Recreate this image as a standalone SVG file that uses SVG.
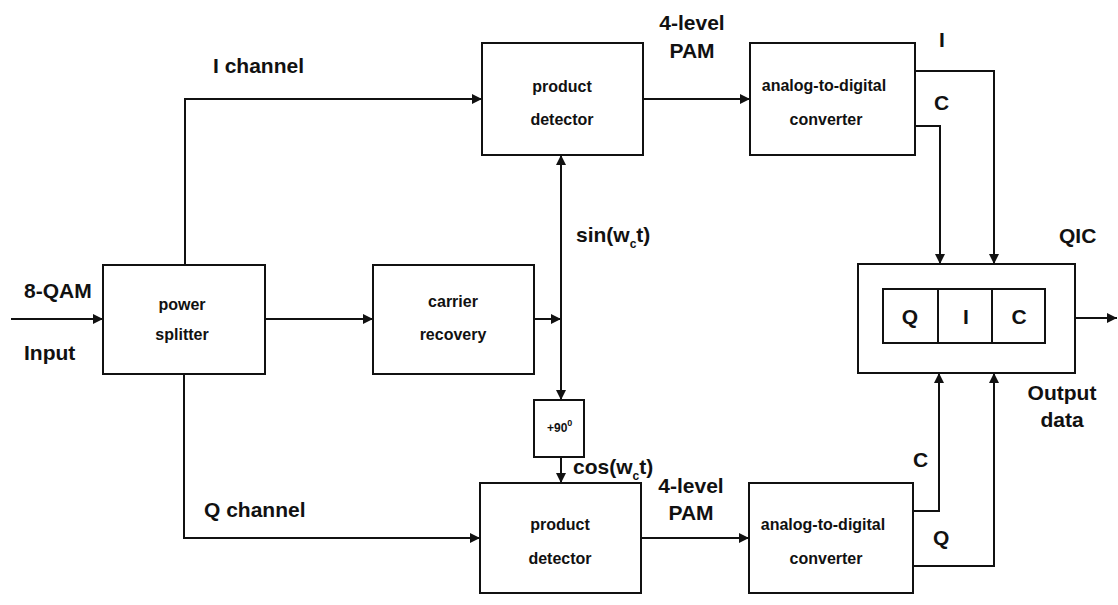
<svg xmlns="http://www.w3.org/2000/svg" width="1118" height="605" viewBox="0 0 1118 605">
<style>
.box{fill:#fff;stroke:#111;stroke-width:2}
.ln{fill:none;stroke:#111;stroke-width:2}
.lbl{font-family:"Liberation Sans",Arial,sans-serif;font-weight:bold;font-size:21px;fill:#111}
.bt{font-family:"Liberation Sans",Arial,sans-serif;font-weight:bold;font-size:16px;fill:#111;text-anchor:middle}
.sub{font-size:12px}
</style>
<defs>
<marker id="ah" viewBox="0 0 10 10" refX="10" refY="5" markerWidth="10" markerHeight="10" markerUnits="userSpaceOnUse" orient="auto">
<path d="M0,0 L10,5 L0,10 Z" fill="#111"/>
</marker>
<marker id="ahs" viewBox="0 0 10 10" refX="10" refY="5" markerWidth="10" markerHeight="10" markerUnits="userSpaceOnUse" orient="auto-start-reverse">
<path d="M0,0 L10,5 L0,10 Z" fill="#111"/>
</marker>
</defs>
<rect width="1118" height="605" fill="#fff"/>

<g id="connectors">
<path class="ln" d="M11,319 H103" marker-end="url(#ah)"/>
<path class="ln" d="M265,319 H373" marker-end="url(#ah)"/>
<path class="ln" d="M534,319 H561" marker-end="url(#ah)"/>
<path class="ln" d="M561,155 V400" marker-start="url(#ahs)" marker-end="url(#ah)"/>
<path class="ln" d="M561,457 V483" marker-end="url(#ah)"/>
<path class="ln" d="M185,265 V99 H482" marker-end="url(#ah)"/>
<path class="ln" d="M184,374 V538 H480" marker-end="url(#ah)"/>
<path class="ln" d="M643,99 H750" marker-end="url(#ah)"/>
<path class="ln" d="M641,538 H749" marker-end="url(#ah)"/>
<path class="ln" d="M915,71 H994 V264" marker-end="url(#ah)"/>
<path class="ln" d="M915,126 H940 V264" marker-end="url(#ah)"/>
<path class="ln" d="M913,511 H939 V373" marker-end="url(#ah)"/>
<path class="ln" d="M913,566 H994 V373" marker-end="url(#ah)"/>
<path class="ln" d="M1075,318 H1117" marker-end="url(#ah)"/>
</g>

<g id="power-splitter">
<rect class="box" x="103" y="265" width="162" height="109"/>
<text class="bt" x="182" y="310">power</text>
<text class="bt" x="182" y="340">splitter</text>
</g>

<g id="carrier-recovery">
<rect class="box" x="373" y="265" width="161" height="109"/>
<text class="bt" x="453" y="307">carrier</text>
<text class="bt" x="453" y="340">recovery</text>
</g>

<g id="product-detector-i">
<rect class="box" x="482" y="43" width="161" height="112"/>
<text class="bt" x="562" y="92">product</text>
<text class="bt" x="562" y="125">detector</text>
</g>

<g id="adc-i">
<rect class="box" x="750" y="43" width="165" height="112"/>
<text class="bt" x="824" y="91">analog-to-digital</text>
<text class="bt" x="826" y="125">converter</text>
</g>

<g id="phase-shift">
<rect class="box" x="534" y="400" width="50" height="57"/>
<text x="547" y="432" style="font-family:'Liberation Sans',Arial,sans-serif;font-weight:bold;font-size:12px;fill:#111">+90<tspan dy="-6" font-size="9">0</tspan></text>
</g>

<g id="product-detector-q">
<rect class="box" x="480" y="483" width="161" height="110"/>
<text class="bt" x="560" y="530">product</text>
<text class="bt" x="560" y="564">detector</text>
</g>

<g id="adc-q">
<rect class="box" x="749" y="483" width="164" height="110"/>
<text class="bt" x="823" y="530">analog-to-digital</text>
<text class="bt" x="826" y="564">converter</text>
</g>

<g id="qic-register">
<rect class="box" x="858" y="264" width="217" height="109"/>
<rect class="box" x="883" y="289" width="162" height="54"/>
<line class="ln" x1="938" y1="289" x2="938" y2="343"/>
<line class="ln" x1="992" y1="289" x2="992" y2="343"/>
<text class="lbl" x="910" y="324" text-anchor="middle" font-size="19">Q</text>
<text class="lbl" x="966" y="324" text-anchor="middle" font-size="19">I</text>
<text class="lbl" x="1019" y="324" text-anchor="middle" font-size="19">C</text>
</g>

<g id="labels">
<text class="lbl" x="213" y="73">I channel</text>
<text class="lbl" x="24" y="298">8-QAM</text>
<text class="lbl" x="24" y="360">Input</text>
<text class="lbl" x="692" y="30" text-anchor="middle">4-level</text>
<text class="lbl" x="692" y="58" text-anchor="middle">PAM</text>
<text class="lbl" x="939" y="47">I</text>
<text class="lbl" x="934" y="110">C</text>
<text class="lbl" x="576" y="242">sin(w<tspan class="sub" dy="6">c</tspan><tspan dy="-6">t)</tspan></text>
<text class="lbl" x="1059" y="243">QIC</text>
<text class="lbl" x="204" y="517">Q channel</text>
<text class="lbl" x="573" y="474">cos(w<tspan class="sub" dy="6">c</tspan><tspan dy="-6">t)</tspan></text>
<text class="lbl" x="691" y="493" text-anchor="middle">4-level</text>
<text class="lbl" x="691" y="520" text-anchor="middle">PAM</text>
<text class="lbl" x="913" y="467">C</text>
<text class="lbl" x="933" y="545">Q</text>
<text class="lbl" x="1062" y="400" text-anchor="middle">Output</text>
<text class="lbl" x="1062" y="427" text-anchor="middle">data</text>
</g>
</svg>
